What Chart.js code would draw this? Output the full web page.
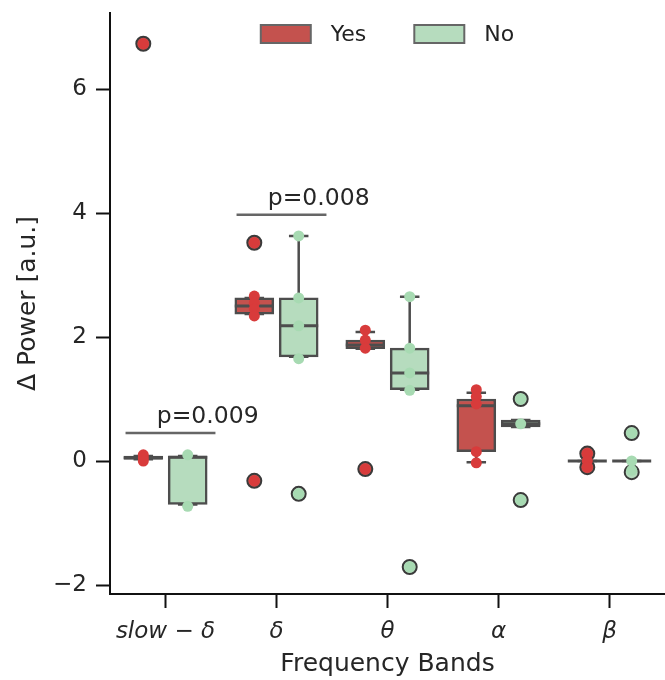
<!DOCTYPE html>
<html>
<head>
<meta charset="utf-8">
<script src="https://cdn.jsdelivr.net/npm/chart.js@4.4.1/dist/chart.umd.min.js"></script>
<style>
  html, body { margin: 0; padding: 0; background: #fff; }
  canvas { display: block; }
</style>
</head>
<body>
<canvas id="bands" width="665" height="680"></canvas>
<script>
// frequency bands and y ticks
const bands = ['slow − δ', 'δ', 'θ', 'α', 'β'];
const yTicks = [-2, 0, 2, 4, 6];

// "Yes" group, box stats per band
const yesQ1  = [0.03, 2.37, 1.81, 0.15, 0.0];
const yesMed = [0.05, 2.50, 1.87, 0.89, 0.0];
const yesQ3  = [0.08, 2.63, 1.95, 1.00, 0.0];
const yesLo  = [0.03, 2.37, 1.81, -0.02, 0.0];
const yesHi  = [0.08, 2.63, 2.08, 1.10, 0.0];
const yesOut = [[6.73], [3.52, -0.32], [-0.13], [], [0.12, -0.10]];
const yesPts = [[6.73, 0.10, 0.05, 0.0], [3.52, 2.66, 2.55, 2.45, 2.34, -0.32],
                [2.11, 1.95, 1.82, -0.13], [1.15, 1.04, 0.92, 0.15, -0.03], [0.12, 0.0, -0.10]];

// "No" group
const noQ1  = [-0.70, 1.68, 1.15, 0.55, 0.0];
const noMed = [0.06, 2.18, 1.42, 0.60, 0.0];
const noQ3  = [0.08, 2.63, 1.82, 0.66, 0.0];
const noLo  = [-0.70, 1.68, 1.15, 0.55, 0.0];
const noHi  = [0.08, 3.63, 2.65, 0.66, 0.0];
const noOut = [[], [-0.53], [-1.71], [1.00, -0.63], [0.45, -0.18]];
const noPts = [[0.10, -0.73], [3.63, 2.63, 2.18, 1.65, -0.53], [2.65, 1.82, 1.42, 1.14, -1.71],
               [1.00, 0.60, -0.63], [0.45, 0.0, -0.15]];

// significance brackets
const sigBand = [0, 1];
const sigLevel = [0.45, 3.97];
const sigText = ['p=0.009', 'p=0.008'];

const FONT = "'DejaVu Sans', sans-serif";
const EDGE = '#4d4d4d';

const groups = [
  { label: 'Yes', shift: -0.2, fill: '#c4524e', dot: '#d83b3b',
    q1: yesQ1, med: yesMed, q3: yesQ3, lo: yesLo, hi: yesHi, out: yesOut, pts: yesPts },
  { label: 'No', shift: 0.2, fill: '#b6dcbe', dot: '#a7dab2',
    q1: noQ1, med: noMed, q3: noQ3, lo: noLo, hi: noHi, out: noOut, pts: noPts }
];

const datasets = [];
groups.forEach(g => {
  datasets.push({
    type: 'bar', label: g.label, stats: g,
    data: bands.map((b, i) => ({ x: i + g.shift, y: [g.q1[i], g.q3[i]] })),
    backgroundColor: g.fill, borderColor: EDGE, borderWidth: 2.5,
    borderSkipped: false, barThickness: 39, grouped: false, order: 3
  });
  datasets.push({
    type: 'scatter', label: g.label + ' outliers',
    data: g.out.flatMap((vals, i) => vals.map(v => ({ x: i + g.shift, y: v }))),
    pointRadius: 7, pointBackgroundColor: g.fill, pointBorderColor: '#3a3a3a',
    pointBorderWidth: 2, order: 2
  });
  datasets.push({
    type: 'scatter', label: g.label + ' points',
    data: g.pts.flatMap((vals, i) => vals.map(v => ({ x: i + g.shift, y: v }))),
    pointRadius: 5.5, pointBackgroundColor: g.dot, pointBorderWidth: 0, order: 1
  });
});

// whiskers, caps and medians on top of each box dataset
const boxParts = {
  id: 'boxParts',
  afterDatasetDraw(chart, args) {
    const ds = chart.data.datasets[args.index];
    if (!ds.stats) return;
    const g = ds.stats;
    const { ctx, scales: { y } } = chart;
    ctx.save();
    ctx.strokeStyle = EDGE;
    ctx.lineCap = 'butt';
    args.meta.data.forEach((bar, i) => {
      const cx = bar.x, half = bar.width / 2, capHalf = bar.width / 4;
      const yq1 = y.getPixelForValue(g.q1[i]), yq3 = y.getPixelForValue(g.q3[i]);
      const ylo = y.getPixelForValue(g.lo[i]), yhi = y.getPixelForValue(g.hi[i]);
      ctx.lineWidth = 2.5;
      ctx.beginPath();
      ctx.moveTo(cx, yq3); ctx.lineTo(cx, yhi);
      ctx.moveTo(cx, yq1); ctx.lineTo(cx, ylo);
      ctx.moveTo(cx - capHalf, yhi); ctx.lineTo(cx + capHalf, yhi);
      ctx.moveTo(cx - capHalf, ylo); ctx.lineTo(cx + capHalf, ylo);
      ctx.stroke();
      ctx.lineWidth = 3;
      const ym = y.getPixelForValue(g.med[i]);
      ctx.beginPath();
      ctx.moveTo(cx - half, ym); ctx.lineTo(cx + half, ym);
      ctx.stroke();
    });
    ctx.restore();
  }
};

// p-value brackets and in-plot legend
const extras = {
  id: 'extras',
  afterDraw(chart) {
    const { ctx, chartArea, scales: { x, y } } = chart;
    ctx.save();
    sigBand.forEach((b, k) => {
      const yy = y.getPixelForValue(sigLevel[k]);
      ctx.strokeStyle = '#666';
      ctx.lineWidth = 2.5;
      ctx.beginPath();
      ctx.moveTo(x.getPixelForValue(b - 0.36), yy);
      ctx.lineTo(x.getPixelForValue(b + 0.45), yy);
      ctx.stroke();
      ctx.fillStyle = '#262626';
      ctx.font = '23.5px ' + FONT;
      ctx.textAlign = 'center';
      ctx.textBaseline = 'alphabetic';
      ctx.fillText(sigText[k], x.getPixelForValue(b + 0.38), yy - 10);
    });

    // legend
    ctx.font = '22px ' + FONT;
    ctx.textBaseline = 'middle';
    ctx.textAlign = 'left';
    const items = chart.data.datasets.filter(d => d.stats);
    const boxW = 50, boxH = 18, gapText = 20, gapItem = 48;
    const widths = items.map(d => boxW + gapText + ctx.measureText(d.label).width);
    const total = widths.reduce((a, b) => a + b, 0) + gapItem * (items.length - 1);
    let lx = (chartArea.left + chartArea.right) / 2 - total / 2;
    const ly = chartArea.top + 21;
    items.forEach((d, k) => {
      ctx.fillStyle = d.backgroundColor;
      ctx.fillRect(lx, ly - boxH / 2, boxW, boxH);
      ctx.strokeStyle = '#666';
      ctx.lineWidth = 2;
      ctx.strokeRect(lx, ly - boxH / 2, boxW, boxH);
      ctx.fillStyle = '#222';
      ctx.fillText(d.label, lx + boxW + gapText, ly + 1);
      lx += widths[k] + gapItem;
    });
    ctx.restore();
  }
};

new Chart(document.getElementById('bands'), {
  type: 'bar',
  data: { datasets },
  plugins: [boxParts, extras],
  options: {
    responsive: false,
    animation: false,
    layout: { autoPadding: false, padding: { top: 13, right: 0, left: 0, bottom: 0 } },
    plugins: { legend: { display: false }, tooltip: { enabled: false } },
    scales: {
      x: {
        type: 'linear', min: -0.5, max: 4.5, offset: false,
        afterBuildTicks: s => { s.ticks = bands.map((b, i) => ({ value: i })); },
        afterFit: s => { s.height = 86; s.paddingLeft = 0; s.paddingRight = 0; },
        ticks: {
          autoSkip: false, maxRotation: 0, padding: 10,
          color: '#262626', font: { family: FONT, size: 23, style: 'italic' },
          callback: (v, i) => bands[i]
        },
        grid: { offset: false, drawOnChartArea: false, drawTicks: true, tickLength: 14, tickWidth: 2, tickColor: '#111' },
        border: { color: '#111', width: 2 },
        title: { display: true, text: 'Frequency Bands', color: '#262626',
                 font: { family: FONT, size: 25 }, padding: { top: 0, bottom: 1 } }
      },
      y: {
        min: -2.145, max: 7.226,
        afterBuildTicks: s => { s.ticks = yTicks.map(v => ({ value: v })); },
        afterFit: s => { s.width = 110; s.paddingTop = 0; s.paddingBottom = 0; },
        ticks: {
          padding: 9, color: '#262626', font: { family: FONT, size: 23 },
          callback: v => (v < 0 ? '−' + Math.abs(v) : String(v))
        },
        grid: { drawOnChartArea: false, drawTicks: true, tickLength: 14, tickWidth: 2, tickColor: '#111' },
        border: { color: '#111', width: 2 },
        title: { display: true, text: 'Δ Power [a.u.]', color: '#262626',
                 font: { family: FONT, size: 25 }, padding: { top: 13, bottom: 0 } }
      }
    }
  }
});
</script>
</body>
</html>
